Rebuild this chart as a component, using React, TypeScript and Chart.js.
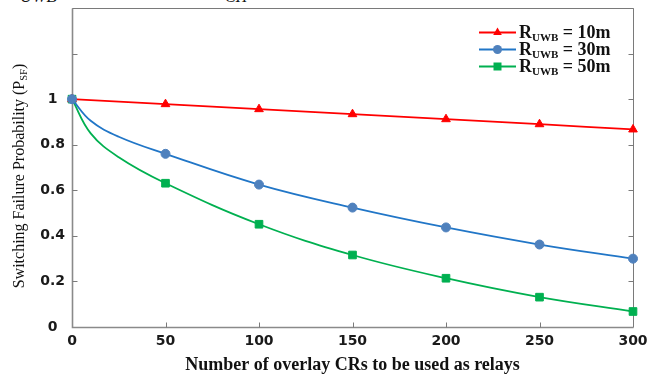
import React, { useEffect, useRef } from 'react';
import { Chart, registerables } from 'chart.js';

Chart.register(...registerables);

// ---- data ----
const X_MARKED = [0, 50, 100, 150, 200, 250, 300];
const X_CURVE = [0, 10, 25, 50, 100, 150, 200, 250, 300];
const P_R10 = [1.0, 0.978, 0.956, 0.934, 0.912, 0.89, 0.867];
const P_R30 = [1.0, 0.905, 0.835, 0.76, 0.625, 0.524, 0.437, 0.362, 0.3];
const P_R50 = [1.0, 0.85, 0.745, 0.631, 0.451, 0.316, 0.214, 0.131, 0.068];
const LEGEND_VALUES = ['= 10m', '= 30m', '= 50m'];
const X_TITLE = 'Number of overlay CRs to be used as relays';
const Y_TITLE_MAIN = 'Switching Failure Probability (P';
const Y_TITLE_SUB = 'SF';
const Y_TITLE_END = ')';

const RED = '#ff0000';
const BLUE_LINE = '#2176c7';
const BLUE_MARK = '#4f81bd';
const GREEN = '#00b050';
const SERIF = '"Liberation Serif", "Times New Roman", serif';
const SANS = '"DejaVu Sans", Verdana, sans-serif';

const isMarked = (ctx: any) => ctx && ctx.raw && ctx.raw.x % 50 === 0;

const framePlugin = {
  id: 'frame',
  beforeDatasetsDraw(chart: any) {
    const { ctx, chartArea: a, scales } = chart;
    const l = Math.round(a.left) + 0.5;
    const r = Math.round(a.right) + 0.5;
    const t = Math.round(a.top) + 0.5;
    const b = Math.round(a.bottom) + 0.5;
    ctx.save();
    ctx.strokeStyle = '#7a7a7a';
    ctx.lineWidth = 1;
    ctx.beginPath();
    ctx.moveTo(l, t);
    ctx.lineTo(r, t);
    ctx.lineTo(r, b);
    ctx.stroke();
    ctx.strokeStyle = '#8a8a8a';
    ctx.lineWidth = 1.6;
    ctx.beginPath();
    ctx.moveTo(l, t);
    ctx.lineTo(l, b);
    ctx.lineTo(r, b);
    ctx.stroke();
    ctx.lineWidth = 1;
    ctx.strokeStyle = '#7a7a7a';
    ctx.beginPath();
    scales.x.ticks.forEach((tk: any) => {
      if (tk.value === 0 || tk.value === 300) return;
      const x = Math.round(scales.x.getPixelForValue(tk.value)) + 0.5;
      ctx.moveTo(x, b);
      ctx.lineTo(x, b - 5);
    });
    scales.y.ticks.forEach((tk: any) => {
      if (tk.value === 0) return;
      const y = Math.round(scales.y.getPixelForValue(tk.value)) + 0.5;
      ctx.moveTo(l, y);
      ctx.lineTo(l + 5, y);
      ctx.moveTo(r, y);
      ctx.lineTo(r - 5, y);
    });
    ctx.stroke();
    ctx.restore();
  },
};

const textPlugin = {
  id: 'texts',
  afterDraw(chart: any) {
    const { ctx } = chart;
    ctx.save();
    ctx.fillStyle = '#111';
    ctx.textBaseline = 'alphabetic';
    ctx.textAlign = 'left';
    const mainFont = `16px ${SERIF}`;
    const subFont = `10.5px ${SERIF}`;
    ctx.font = mainFont;
    const w1 = ctx.measureText(Y_TITLE_MAIN).width;
    const w3 = ctx.measureText(Y_TITLE_END).width;
    ctx.font = subFont;
    const w2 = ctx.measureText(Y_TITLE_SUB).width;
    const total = w1 + w2 + w3;
    ctx.translate(24, 176);
    ctx.rotate(-Math.PI / 2);
    let x = -total / 2;
    ctx.font = mainFont;
    ctx.fillText(Y_TITLE_MAIN, x, 0);
    x += w1;
    ctx.font = subFont;
    ctx.fillText(Y_TITLE_SUB, x, 3);
    x += w2;
    ctx.font = mainFont;
    ctx.fillText(Y_TITLE_END, x, 0);
    ctx.restore();

    const rows = [32, 49, 66];
    const colors = [RED, BLUE_LINE, GREEN];
    const marks = [RED, BLUE_MARK, GREEN];
    ctx.save();
    rows.forEach((ry, i) => {
      ctx.strokeStyle = colors[i];
      ctx.lineWidth = 2;
      ctx.beginPath();
      ctx.moveTo(479, ry + 0.5);
      ctx.lineTo(516, ry + 0.5);
      ctx.stroke();
      ctx.fillStyle = marks[i];
      const cx = 497.5;
      const cy = ry + 0.5;
      ctx.beginPath();
      if (i === 0) {
        ctx.moveTo(cx, cy - 5);
        ctx.lineTo(cx + 4.3, cy + 2.5);
        ctx.lineTo(cx - 4.3, cy + 2.5);
        ctx.closePath();
      } else if (i === 1) {
        ctx.arc(cx, cy, 4.5, 0, Math.PI * 2);
      } else {
        ctx.rect(cx - 4, cy - 4, 8, 8);
      }
      ctx.fill();
      ctx.fillStyle = '#111';
      ctx.textBaseline = 'alphabetic';
      let tx = 519;
      ctx.font = `bold 18px ${SERIF}`;
      ctx.fillText('R', tx, ry + 6);
      tx += ctx.measureText('R').width;
      ctx.font = `bold 11px ${SERIF}`;
      ctx.fillText('UWB', tx, ry + 9);
      tx += ctx.measureText('UWB').width;
      ctx.font = `bold 18px ${SERIF}`;
      ctx.fillText(' ' + LEGEND_VALUES[i], tx, ry + 6);
    });
    ctx.restore();
  },
};

export default function App() {
  const ref = useRef<HTMLCanvasElement | null>(null);

  useEffect(() => {
    if (!ref.current) return;
    const common = {
      pointBorderWidth: 1,
      borderWidth: 1.8,
      tension: 0.4,
      clip: false,
    };
    const chart = new Chart(ref.current, {
      type: 'line',
      data: {
        datasets: [
          {
            ...common,
            label: 'R_UWB = 10m',
            data: X_MARKED.map((x, i) => ({ x, y: P_R10[i] })),
            borderColor: RED,
            backgroundColor: RED,
            pointBackgroundColor: RED,
            pointBorderColor: RED,
            pointStyle: 'triangle',
            pointRadius: (c: any) => (isMarked(c) ? 5 : 0),
            order: 1,
          },
          {
            ...common,
            label: 'R_UWB = 30m',
            data: X_CURVE.map((x, i) => ({ x, y: P_R30[i] })),
            borderColor: BLUE_LINE,
            backgroundColor: BLUE_MARK,
            pointBackgroundColor: BLUE_MARK,
            pointBorderColor: BLUE_MARK,
            pointStyle: 'circle',
            pointRadius: (c: any) => (isMarked(c) ? 4.5 : 0),
            order: 0,
          },
          {
            ...common,
            label: 'R_UWB = 50m',
            data: X_CURVE.map((x, i) => ({ x, y: P_R50[i] })),
            borderColor: GREEN,
            backgroundColor: GREEN,
            pointBackgroundColor: GREEN,
            pointBorderColor: GREEN,
            pointStyle: 'rect',
            pointRadius: (c: any) => (isMarked(c) ? 5.4 : 0),
            order: 2,
          },
        ],
      } as any,
      options: {
        animation: false,
        responsive: false,
        devicePixelRatio: 1,
        layout: { padding: { left: 0, top: 8, right: 15, bottom: 0 } },
        plugins: { legend: { display: false }, tooltip: { enabled: false } },
        scales: {
          x: {
            type: 'linear',
            min: 0,
            max: 300,
            border: { display: false },
            grid: { display: false, drawTicks: false },
            ticks: {
              stepSize: 50,
              padding: 6,
              maxRotation: 0,
              autoSkip: false,
              color: '#1a1a1a',
              font: { family: SANS, weight: 'bold', size: 14 },
            },
            title: {
              display: true,
              text: X_TITLE,
              color: '#111',
              padding: { top: 0, bottom: -2 },
              font: { family: SERIF, weight: 'bold', size: 18 },
            },
            afterFit: (s: any) => {
              s.height = 47;
              s.paddingLeft = 0;
              s.paddingRight = 0;
            },
          },
          y: {
            type: 'linear',
            min: 0,
            max: 1.4,
            border: { display: false },
            grid: { display: false, drawTicks: false },
            ticks: {
              stepSize: 0.2,
              padding: 7,
              crossAlign: 'center',
              color: '#1a1a1a',
              font: { family: SANS, weight: 'bold', size: 14 },
              callback: (v: any) => (v > 1.0001 ? '' : String(Math.round(v * 10) / 10)),
            },
            afterFit: (s: any) => {
              s.width = 72;
              s.paddingTop = 0;
              s.paddingBottom = 0;
            },
          },
        },
      } as any,
      plugins: [framePlugin, textPlugin],
    });
    return () => chart.destroy();
  }, []);

  return (
    <div style={{ position: 'absolute', left: 0, top: 0, width: 648, height: 374, overflow: 'hidden', background: '#fff' }}>
      <div
        style={{
          position: 'absolute',
          top: -12,
          left: 20,
          fontFamily: SERIF,
          fontStyle: 'italic',
          fontSize: 17,
          lineHeight: '17px',
          color: '#111',
          whiteSpace: 'nowrap',
        }}
      >
        UWB
      </div>
      <div
        style={{
          position: 'absolute',
          top: -12,
          left: 225,
          fontFamily: SERIF,
          fontStyle: 'italic',
          fontSize: 16,
          lineHeight: '17px',
          color: '#111',
          whiteSpace: 'nowrap',
        }}
      >
        CH
      </div>
      <canvas ref={ref} width={648} height={374} style={{ position: 'absolute', left: 0, top: 0, width: 648, height: 374 }} />
    </div>
  );
}
